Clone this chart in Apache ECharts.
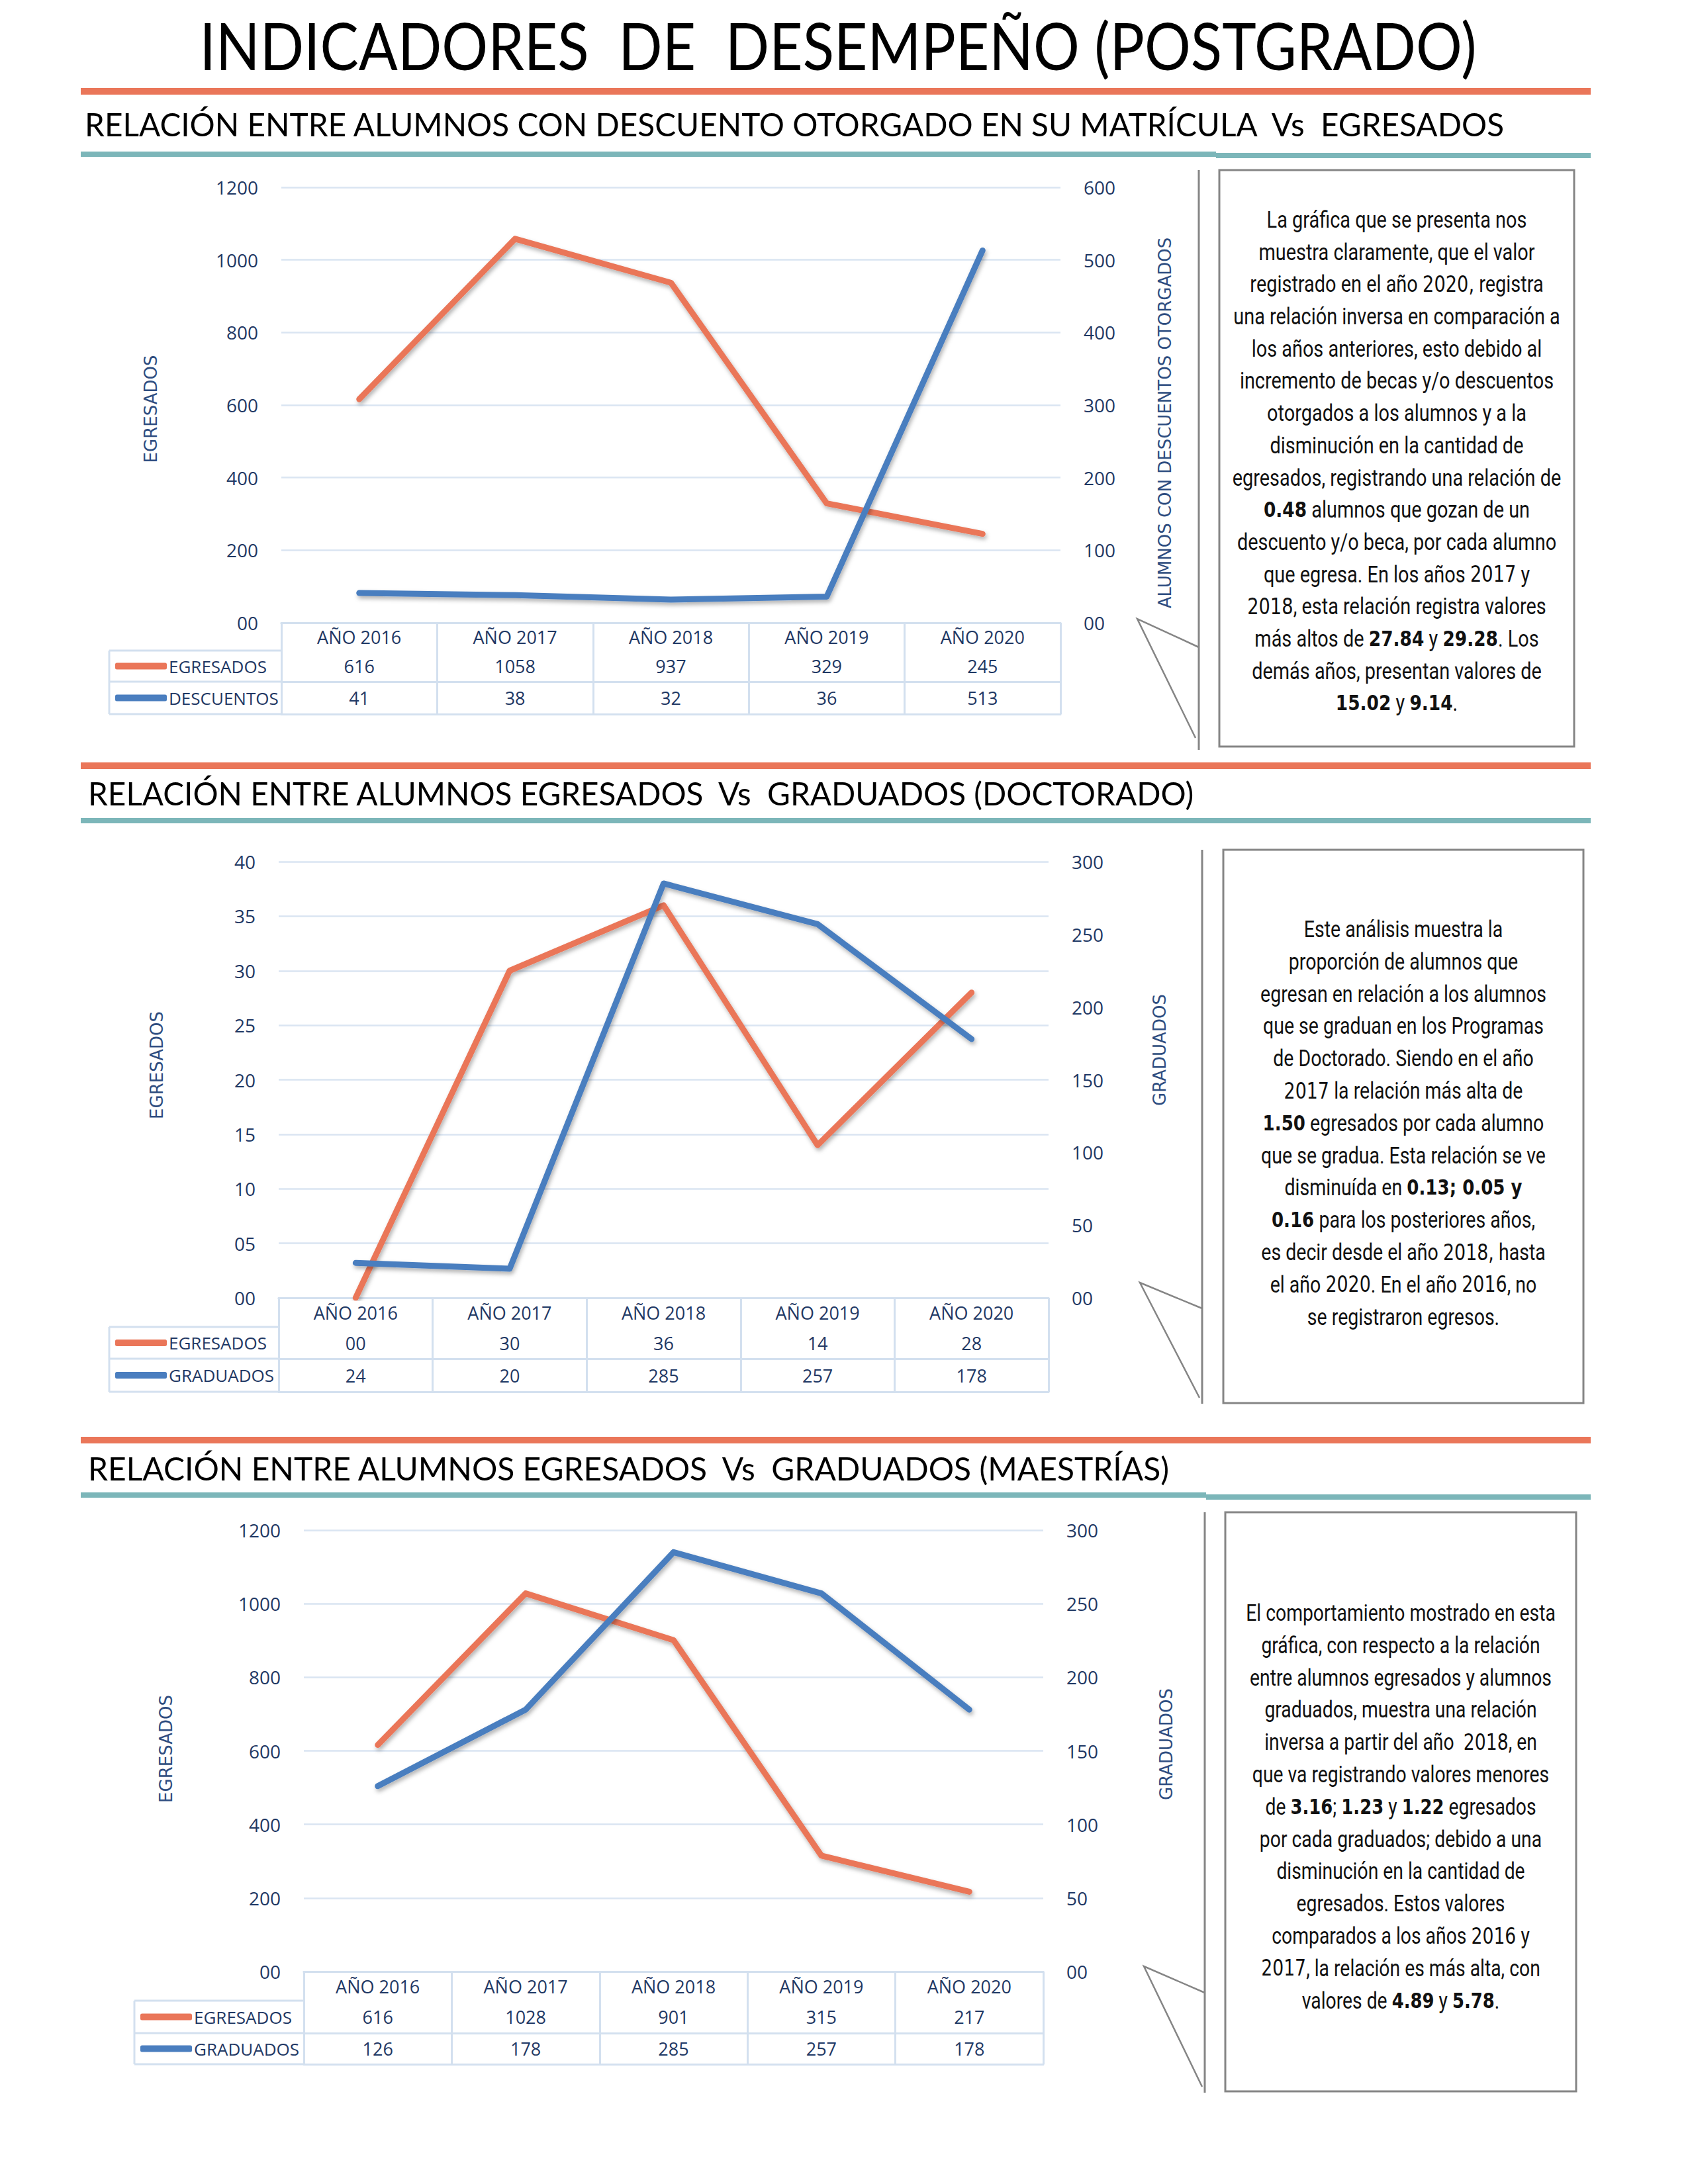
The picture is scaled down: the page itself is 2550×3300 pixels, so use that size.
<!DOCTYPE html>
<html>
<head>
<meta charset="utf-8">
<script src="https://cdn.jsdelivr.net/npm/echarts@6/dist/echarts.min.js"></script>
<style>
html,body{margin:0;padding:0;background:#ffffff;}
#c{width:2550px;height:3300px;}
</style>
</head>
<body>
<div id="c"></div>
<script>
// ---------------- DATA ----------------
const years = ['AÑO 2016', 'AÑO 2017', 'AÑO 2018', 'AÑO 2019', 'AÑO 2020'];

const c1Names = ['EGRESADOS', 'DESCUENTOS'];
const c1Egresados = [616, 1058, 937, 329, 245];
const c1Descuentos = [41, 38, 32, 36, 513];
const c1AxisTitles = ['EGRESADOS', 'ALUMNOS CON DESCUENTOS OTORGADOS'];
const c1LeftRange = [0, 1200, 200];
const c1RightRange = [0, 600, 100];

const c2Names = ['EGRESADOS', 'GRADUADOS'];
const c2Egresados = [0, 30, 36, 14, 28];
const c2Graduados = [24, 20, 285, 257, 178];
const c2AxisTitles = ['EGRESADOS', 'GRADUADOS'];
const c2LeftRange = [0, 40, 5];
const c2RightRange = [0, 300, 50];

const c3Names = ['EGRESADOS', 'GRADUADOS'];
const c3Egresados = [616, 1028, 901, 315, 217];
const c3Graduados = [126, 178, 285, 257, 178];
const c3AxisTitles = ['EGRESADOS', 'GRADUADOS'];
const c3LeftRange = [0, 1200, 200];
const c3RightRange = [0, 300, 50];

const pageTitle = 'INDICADORES\u00A0 DE\u00A0 DESEMPEÑO (POSTGRADO)';
const headings = [
  'RELACIÓN ENTRE ALUMNOS CON DESCUENTO OTORGADO EN SU MATRÍCULA\u00A0 Vs\u00A0 EGRESADOS',
  'RELACIÓN ENTRE ALUMNOS EGRESADOS\u00A0 Vs\u00A0 GRADUADOS (DOCTORADO)',
  'RELACIÓN ENTRE ALUMNOS EGRESADOS\u00A0 Vs\u00A0 GRADUADOS (MAESTRÍAS)'
];

const box1Lines = [
  'La gráfica que se presenta nos',
  'muestra claramente, que el valor',
  'registrado en el año {d|2020,} registra',
  'una relación inversa en comparación a',
  'los años anteriores, esto debido al',
  'incremento de becas y/o descuentos',
  'otorgados a los alumnos y a la',
  'disminución en la cantidad de',
  'egresados, registrando una relación de',
  '{b|0.48} alumnos que gozan de un',
  'descuento y/o beca, por cada alumno',
  'que egresa. En los años {d|2017} y',
  '{d|2018}, esta relación registra valores',
  'más altos de {b|27.84} y {b|29.28}. Los',
  'demás años, presentan valores de',
  '{b|15.02} y {b|9.14}.'
];
const box2Lines = [
  'Este análisis muestra la',
  'proporción de alumnos que',
  'egresan en relación a los alumnos',
  'que se graduan en los Programas',
  'de Doctorado. Siendo en el año',
  '{d|2017} la relación más alta de',
  '{b|1.50} egresados por cada alumno',
  'que se gradua. Esta relación se ve',
  'disminuída en {b|0.13; 0.05 y}',
  '{b|0.16} para los posteriores años,',
  'es decir desde el año {d|2018,} hasta',
  'el año {d|2020}. En el año {d|2016}, no',
  'se registraron egresos.'
];
const box3Lines = [
  'El comportamiento mostrado en esta',
  'gráfica, con respecto a la relación',
  'entre alumnos egresados y alumnos',
  'graduados, muestra una relación',
  'inversa a partir del año\u00A0 {d|2018}, en',
  'que va registrando valores menores',
  'de {b|3.16}; {b|1.23} y {b|1.22} egresados',
  'por cada graduados; debido a una',
  'disminución en la cantidad de',
  'egresados. Estos valores',
  'comparados a los años {d|2016} y',
  '{d|2017}, la relación es más alta, con',
  'valores de {b|4.89} y {b|5.78}.'
];

// ---------------- STYLE ----------------
const ORANGE = '#EA7659';
const BLUE = '#4A7EBF';
const TEAL = '#7CB6B9';
const GRIDC = '#DAE5F2';
const TABLEC = '#D3E0EF';
const NAVY = '#1F3864';
const NAMEC = '#2E4D80';
const GRAY = '#858585';
const LABEL_FONT = 'Open Sans';
const HEAD_FONT = 'Lato';

const RICH = {
  n: { fontFamily: 'Roboto', fontSize: 35, fontWeight: 'normal', fill: '#111111' },
  b: { fontFamily: 'DejaVu Sans', fontSize: 32, fontWeight: 'bold', fill: '#111111' },
  d: { fontFamily: 'DejaVu Sans', fontSize: 33, fontWeight: 'normal', fill: '#111111' }
};

const pad2 = v => (Number(v) < 10 ? '0' + v : String(v));

// ---------------- LAYOUT ----------------
const charts = [
  {
    names: c1Names, s1: c1Egresados, s2: c1Descuentos, titles: c1AxisTitles,
    left: c1LeftRange, right: c1RightRange,
    gl: 425, gt: 283, gw: 1177, gh: 658, rows: [42, 47, 49],
    tableLeft: 165, legendLeft: 174, nameGapL: 184, nameGapR: 145,
    namePadL: [0, 12, 0, 0], namePadR: [0, 54, 0, 0],
    box: { x: 1842, y: 257, w: 536, h: 871 }, vline: { x: 1811, y1: 257, y2: 1133 },
    tail: [[1811, 978], [1718, 935], [1806, 1115]],
    text: { lines: box1Lines, cx: 2110, y0: 332, pitch: 48.7, ref: 8, refW: 497 }
  },
  {
    names: c2Names, s1: c2Egresados, s2: c2Graduados, titles: c2AxisTitles,
    left: c2LeftRange, right: c2RightRange,
    gl: 421, gt: 1302, gw: 1163, gh: 659, rows: [44, 48, 50],
    tableLeft: 165, legendLeft: 174, nameGapL: 171, nameGapR: 155,
    namePadL: [0, 0, 0, 44], namePadR: [0, 0, 0, 90],
    box: { x: 1848, y: 1284, w: 544, h: 836 }, vline: { x: 1816, y1: 1284, y2: 2121 },
    tail: [[1816, 1977], [1722, 1938], [1812, 2112]],
    text: { lines: box2Lines, cx: 2120, y0: 1404, pitch: 48.8, ref: 2, refW: 432 }
  },
  {
    names: c3Names, s1: c3Egresados, s2: c3Graduados, titles: c3AxisTitles,
    left: c3LeftRange, right: c3RightRange,
    gl: 459, gt: 2312, gw: 1117, gh: 667, rows: [44, 49, 47],
    tableLeft: 203, legendLeft: 212, nameGapL: 195, nameGapR: 173,
    namePadL: [0, 0, 0, 6], namePadR: [0, 0, 0, 20],
    box: { x: 1851, y: 2285, w: 530, h: 875 }, vline: { x: 1820, y1: 2285, y2: 3162 },
    tail: [[1820, 3011], [1728, 2971], [1816, 3153]],
    text: { lines: box3Lines, cx: 2116, y0: 2437, pitch: 48.8, ref: 0, refW: 468 }
  }
];

// ---------------- TEXT MEASURE ----------------
const mctx = document.createElement('canvas').getContext('2d');
function measure(str, font) { mctx.font = font; return mctx.measureText(str).width; }
function fontOf(st) { return (st.fontWeight || 'normal') + ' ' + st.fontSize + 'px "' + st.fontFamily + '"'; }
function segs(line) {
  const out = []; const re = /\{(\w)\|([^}]*)\}/g; let last = 0, m;
  while ((m = re.exec(line))) {
    if (m.index > last) out.push(['n', line.slice(last, m.index)]);
    out.push([m[1], m[2]]); last = re.lastIndex;
  }
  if (last < line.length) out.push(['n', line.slice(last)]);
  return out;
}
function richWidth(line) { return segs(line).reduce((w, s) => w + measure(s[1], fontOf(RICH[s[0]])), 0); }

// ---------------- BUILD OPTION ----------------
const grid = [], xAxis = [], yAxis = [], series = [], legend = [], G = [];

const lblStyle = { color: NAVY, fontSize: 27, fontFamily: LABEL_FONT, lineHeight: 30 };

charts.forEach((c, i) => {
  const r = c.rows;
  const off = [0, r[0], r[0] + r[1], r[0] + r[1] + r[2]];
  const gb = c.gt + c.gh;
  grid.push({ left: c.gl, top: c.gt, width: c.gw, height: c.gh, containLabel: false, outerBoundsMode: 'none' });
  const xb = xAxis.length, yb = yAxis.length;
  const axLine = { show: true, lineStyle: { color: TABLEC, width: 3 } };
  xAxis.push({
    type: 'category', gridIndex: i, data: years, position: 'bottom', boundaryGap: true,
    axisLine: axLine,
    axisTick: { show: true, interval: 0, length: off[3], lineStyle: { color: TABLEC, width: 3 } },
    axisLabel: Object.assign({ interval: 0, margin: r[0] / 2 - 15 }, lblStyle),
    splitLine: { show: false }
  });
  [c.s1, c.s2].forEach((arr, k) => {
    xAxis.push({
      type: 'category', gridIndex: i, data: years, position: 'bottom', offset: off[k + 1],
      axisLine: axLine, axisTick: { show: false }, splitLine: { show: false },
      axisLabel: Object.assign({ interval: 0, margin: r[k + 1] / 2 - 15, formatter: (v, idx) => pad2(arr[idx]) }, lblStyle)
    });
  });
  xAxis.push({
    type: 'category', gridIndex: i, data: years, position: 'bottom', offset: off[3],
    axisLine: axLine, axisTick: { show: false }, axisLabel: { show: false }, splitLine: { show: false }
  });

  const yLbl = { color: NAVY, fontSize: 28, fontFamily: LABEL_FONT, formatter: pad2, showMinLabel: true, showMaxLabel: true };
  const nameStyle = { color: NAMEC, fontSize: 26, fontFamily: 'DejaVu Sans' };
  yAxis.push({
    type: 'value', gridIndex: i, position: 'left', min: c.left[0], max: c.left[1], interval: c.left[2],
    axisLine: { show: false }, axisTick: { show: false },
    axisLabel: Object.assign({ margin: 35 }, yLbl),
    splitLine: { show: true, lineStyle: { color: GRIDC, width: 2.5 } },
    name: c.titles[0], nameLocation: 'middle', nameRotate: 90, nameGap: c.nameGapL,
    nameTextStyle: Object.assign({ padding: c.namePadL }, nameStyle)
  });
  yAxis.push({
    type: 'value', gridIndex: i, position: 'right', min: c.right[0], max: c.right[1], interval: c.right[2],
    axisLine: { show: false }, axisTick: { show: false },
    axisLabel: Object.assign({ margin: 35 }, yLbl),
    splitLine: { show: false },
    name: c.titles[1], nameLocation: 'middle', nameRotate: 90, nameGap: c.nameGapR,
    nameTextStyle: Object.assign({ padding: c.namePadR }, nameStyle)
  });

  const shadow = { shadowColor: 'rgba(0,0,0,0.30)', shadowBlur: 6, shadowOffsetX: 2, shadowOffsetY: 4 };
  series.push({
    type: 'line', name: c.names[0], xAxisIndex: xb, yAxisIndex: yb, data: c.s1,
    symbol: 'none', showSymbol: false, color: ORANGE, itemStyle: { color: ORANGE },
    lineStyle: Object.assign({ width: 9, color: ORANGE, cap: 'round', join: 'round' }, shadow),
    emphasis: { disabled: true }, z: 3
  });
  series.push({
    type: 'line', name: c.names[1], xAxisIndex: xb, yAxisIndex: yb + 1, data: c.s2,
    symbol: 'none', showSymbol: false, color: BLUE, itemStyle: { color: BLUE },
    lineStyle: Object.assign({ width: 9, color: BLUE, cap: 'round', join: 'round' }, shadow),
    emphasis: { disabled: true }, z: 4
  });

  legend.push({
    data: c.names, orient: 'vertical', left: c.legendLeft, top: gb + r[0] + r[1] / 2 - 15,
    itemWidth: 78, itemHeight: 10, itemGap: (r[1] + r[2]) / 2 - 30, icon: 'roundRect',
    selectedMode: false, padding: 0,
    textStyle: { color: NAVY, fontSize: 26, fontFamily: LABEL_FONT, lineHeight: 30, padding: [0, 0, 0, -2] }
  });

  // table: left column borders
  [1, 2, 3].forEach(k => {
    G.push({ type: 'line', silent: true, shape: { x1: c.tableLeft, y1: gb + off[k], x2: c.gl, y2: gb + off[k] }, style: { stroke: TABLEC, lineWidth: 3 } });
  });
  G.push({ type: 'line', silent: true, shape: { x1: c.tableLeft, y1: gb + off[1], x2: c.tableLeft, y2: gb + off[3] }, style: { stroke: TABLEC, lineWidth: 3 } });

  // callout + text box
  G.push({ type: 'line', silent: true, shape: { x1: c.vline.x, y1: c.vline.y1, x2: c.vline.x, y2: c.vline.y2 }, style: { stroke: GRAY, lineWidth: 3 } });
  G.push({ type: 'polyline', silent: true, shape: { points: c.tail }, style: { stroke: GRAY, lineWidth: 2.5, fill: null } });
  G.push({ type: 'rect', silent: true, shape: { x: c.box.x, y: c.box.y, width: c.box.w, height: c.box.h }, style: { stroke: GRAY, lineWidth: 3, fill: 'rgba(0,0,0,0)' } });

  const t = c.text;
  const sx = t.refW / richWidth(t.lines[t.ref]);
  t.lines.forEach((ln, k) => {
    G.push({
      type: 'text', silent: true, x: t.cx, y: t.y0 + k * t.pitch, scaleX: sx,
      style: Object.assign({ text: ln, rich: RICH, align: 'center', verticalAlign: 'middle' }, RICH.n)
    });
  });
});

// dividers
const ORANGE_Y = [138, 1157, 2176];
const TEAL_Y = [[233, 235, 1837], [1240, 1240, 1837], [2259, 2262, 1822]];
ORANGE_Y.forEach(y => G.push({ type: 'rect', silent: true, shape: { x: 122, y: y - 5, width: 2281, height: 10 }, style: { fill: ORANGE } }));
TEAL_Y.forEach(t => {
  G.push({ type: 'rect', silent: true, shape: { x: 122, y: t[0] - 4, width: t[2] - 122, height: 8 }, style: { fill: TEAL } });
  G.push({ type: 'rect', silent: true, shape: { x: t[2], y: t[1] - 4, width: 2403 - t[2], height: 8 }, style: { fill: TEAL } });
});

// page title + headings (fitted to their widths)
const titleStyle = { fontFamily: HEAD_FONT, fontSize: 98, fontWeight: 'normal', fill: '#000000' };
G.push({
  type: 'text', silent: true, x: 1266, y: 68, scaleX: 1930 / measure(pageTitle, fontOf(titleStyle)),
  style: Object.assign({ text: pageTitle, align: 'center', verticalAlign: 'middle' }, titleStyle)
});
const headStyle = { fontFamily: HEAD_FONT, fontSize: 49, fontWeight: 'normal', fill: '#000000' };
const headPos = [[128, 187, 2148], [133, 1198, 1675], [133, 2218, 1637]];
headings.forEach((h, k) => {
  const p = headPos[k];
  G.push({
    type: 'text', silent: true, x: p[0], y: p[1], scaleX: p[2] / measure(h, fontOf(headStyle)),
    style: Object.assign({ text: h, align: 'left', verticalAlign: 'middle' }, headStyle)
  });
});

const option = {
  animation: false,
  backgroundColor: '#ffffff',
  textStyle: { fontFamily: LABEL_FONT },
  grid, xAxis, yAxis, series, legend,
  graphic: { elements: G }
};

const chart = echarts.init(document.getElementById('c'), null, { renderer: 'svg', width: 2550, height: 3300 });
chart.setOption(option);
</script>
</body>
</html>
